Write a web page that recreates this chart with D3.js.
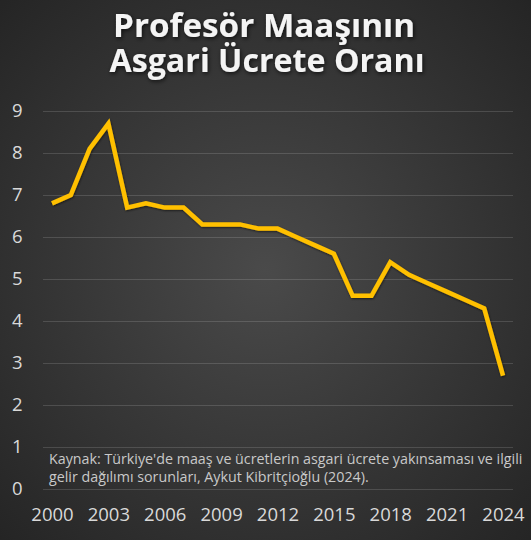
<!DOCTYPE html>
<html lang="tr">
<head>
    <meta charset="UTF-8">
    <title>Profesör Maaşının Asgari Ücrete Oranı</title>
    <script src="https://d3js.org/d3.v7.min.js"></script>
    <style>
        body { margin: 0; background: #2b2b2b; }
        svg { display: block; }
        text { font-family: "Open Sans", Lato, sans-serif; }
    </style>
</head>
<body>
<svg width="531" height="540"></svg>
<script>
    // data
    const years = d3.range(2000, 2025);
    const ratios = [6.8, 7.0, 8.1, 8.7, 6.7, 6.8, 6.7, 6.7, 6.3, 6.3, 6.3, 6.2, 6.2,
                    6.0, 5.8, 5.6, 4.6, 4.6, 5.4, 5.1, 4.9, 4.7, 4.5, 4.3, 2.7];
    const yTicks = [0, 1, 2, 3, 4, 5, 6, 7, 8, 9];
    const xTickYears = [2000, 2003, 2006, 2009, 2012, 2015, 2018, 2021, 2024];
    const titleLines = ["Profesör Maaşının", "Asgari Ücrete Oranı"];
    const sourceLines = ["Kaynak: Türkiye'de maaş ve ücretlerin asgari ücrete yakınsaması ve ilgili",
                         "gelir dağılımı sorunları, Aykut Kibritçioğlu (2024)."];

    const svg = d3.select("svg");
    const W = 531, H = 540;

    let defs = svg.append("defs");
    let grad = defs.append("radialGradient").attr("id", "bg")
        .attr("cx", "50%").attr("cy", "50%").attr("r", "72%");
    grad.append("stop").attr("offset", "0%").attr("stop-color", "#4a4a4a");
    grad.append("stop").attr("offset", "100%").attr("stop-color", "#242424");

    let glow = defs.append("filter").attr("id", "glow")
        .attr("x", "-10%").attr("y", "-30%").attr("width", "120%").attr("height", "160%");
    glow.append("feDropShadow").attr("dx", 1).attr("dy", 1.5).attr("stdDeviation", 2)
        .attr("flood-color", "#000").attr("flood-opacity", 0.7);

    let lineShadow = defs.append("filter").attr("id", "lshadow")
        .attr("x", "-5%").attr("y", "-5%").attr("width", "110%").attr("height", "110%");
    lineShadow.append("feDropShadow").attr("dx", 0.5).attr("dy", 1).attr("stdDeviation", 1)
        .attr("flood-color", "#000").attr("flood-opacity", 0.6);

    svg.append("rect").attr("width", W).attr("height", H).attr("fill", "url(#bg)");

    let x = d3.scaleLinear().domain([2000, 2024]).range([52, 503]);
    let y = d3.scaleLinear().domain([0, 9]).range([489, 111]);

    // gridlines
    svg.append("g")
        .attr("transform", "translate(43,0)")
        .call(d3.axisLeft(y).tickValues(yTicks).tickSize(-470).tickFormat(""))
        .call(g => g.select(".domain").remove())
        .call(g => g.selectAll("line").attr("stroke", "#ffffff").attr("stroke-opacity", 0.14));

    // y labels
    svg.append("g").selectAll("text")
        .data(yTicks)
        .join("text")
        .attr("x", 12)
        .attr("y", d => y(d))
        .attr("dy", "0.35em")
        .attr("font-size", 18.5)
        .attr("fill", "#d9d9d9")
        .text(d => d);

    // x labels
    svg.append("g")
        .attr("transform", "translate(0,505)")
        .call(d3.axisBottom(x).tickValues(xTickYears).tickSize(0).tickFormat(d3.format("d")))
        .call(g => g.select(".domain").remove())
        .call(g => g.selectAll("text")
            .attr("font-family", "'Open Sans', sans-serif")
            .attr("font-size", 18.5)
            .attr("fill", "#d9d9d9"));

    // source note, sized so the first line spans the same width as in the picture
    let src = svg.append("g").selectAll("text")
        .data(sourceLines)
        .join("text")
        .attr("x", 49)
        .attr("y", (d, i) => 464 + i * 18)
        .attr("font-size", 13.5)
        .attr("fill", "#c9c9c9")
        .text(d => d);
    let k = 474 / src.nodes()[0].getComputedTextLength();
    src.attr("font-size", 13.5 * k);

    // the line
    let line = d3.line().x((d, i) => x(years[i])).y(d => y(d));
    svg.append("path")
        .datum(ratios)
        .attr("d", line)
        .attr("fill", "none")
        .attr("stroke", "#ffc000")
        .attr("stroke-width", 4.5)
        .attr("stroke-linejoin", "miter")
        .attr("filter", "url(#lshadow)");

    // title
    const titleWidths = [302, 315];
    svg.append("g").selectAll("text")
        .data(titleLines)
        .join("text")
        .attr("x", (d, i) => i === 0 ? 264 : 267)
        .attr("y", (d, i) => 37 + i * 35)
        .attr("text-anchor", "middle")
        .attr("font-size", 33)
        .attr("font-weight", "bold")
        .attr("fill", "#f4f4f4")
        .attr("filter", "url(#glow)")
        .attr("textLength", (d, i) => titleWidths[i])
        .attr("lengthAdjust", "spacingAndGlyphs")
        .text(d => d);
</script>
</body>
</html>
